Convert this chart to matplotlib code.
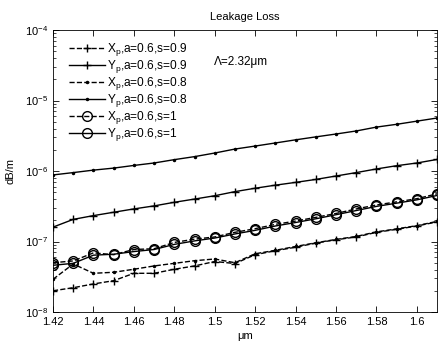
import matplotlib
matplotlib.use("Agg")
import matplotlib.pyplot as plt
from matplotlib.ticker import FuncFormatter, LogLocator, MultipleLocator, NullFormatter

plt.rcParams['font.family'] = ['Liberation Sans', 'DejaVu Sans']
plt.rcParams['mathtext.fontset'] = 'custom'
plt.rcParams['mathtext.rm'] = 'Liberation Sans'
plt.rcParams['mathtext.it'] = 'Liberation Sans:italic'

wavelength = [1.42, 1.43, 1.44, 1.45, 1.46, 1.47, 1.48, 1.49, 1.50, 1.51,
              1.52, 1.53, 1.54, 1.55, 1.56, 1.57, 1.58, 1.59, 1.60, 1.61]

xp_s09 = [2.0e-8, 2.21e-8, 2.5e-8, 2.78e-8, 3.54e-8, 3.54e-8, 4.04e-8, 4.5e-8, 5.2e-8, 4.87e-8,
          6.5e-8, 7.4e-8, 8.3e-8, 9.5e-8, 1.06e-7, 1.16e-7, 1.35e-7, 1.49e-7, 1.66e-7, 1.9e-7]
yp_s09 = [1.6e-7, 2.06e-7, 2.33e-7, 2.6e-7, 2.9e-7, 3.2e-7, 3.6e-7, 4.0e-7, 4.46e-7, 5.1e-7,
          5.7e-7, 6.3e-7, 6.9e-7, 7.6e-7, 8.5e-7, 9.5e-7, 1.07e-6, 1.19e-6, 1.3e-6, 1.46e-6]
xp_s08 = [2.91e-8, 4.8e-8, 3.54e-8, 3.66e-8, 4.04e-8, 4.5e-8, 4.9e-8, 5.34e-8, 5.65e-8, 5.0e-8,
          6.7e-8, 7.5e-8, 8.5e-8, 9.6e-8, 1.07e-7, 1.18e-7, 1.37e-7, 1.51e-7, 1.68e-7, 1.93e-7]
yp_s08 = [8.8e-7, 9.5e-7, 1.03e-6, 1.1e-6, 1.2e-6, 1.3e-6, 1.45e-6, 1.6e-6, 1.8e-6, 2.05e-6,
          2.26e-6, 2.5e-6, 2.77e-6, 3.05e-6, 3.35e-6, 3.7e-6, 4.2e-6, 4.6e-6, 5.1e-6, 5.65e-6]
xp_s1 = [5.0e-8, 5.3e-8, 6.9e-8, 6.5e-8, 7.7e-8, 7.9e-8, 9.7e-8, 1.08e-7, 1.16e-7, 1.35e-7,
         1.52e-7, 1.75e-7, 1.95e-7, 2.2e-7, 2.5e-7, 2.9e-7, 3.3e-7, 3.65e-7, 4.05e-7, 4.75e-7]
yp_s1 = [4.6e-8, 4.9e-8, 6.4e-8, 6.6e-8, 7.2e-8, 7.7e-8, 9.1e-8, 1.02e-7, 1.12e-7, 1.28e-7,
         1.44e-7, 1.66e-7, 1.86e-7, 2.1e-7, 2.4e-7, 2.75e-7, 3.15e-7, 3.5e-7, 3.9e-7, 4.5e-7]

labels = [r"X$_\mathrm{p}$,a=0.6,s=0.9", r"Y$_\mathrm{p}$,a=0.6,s=0.9",
          r"X$_\mathrm{p}$,a=0.6,s=0.8", r"Y$_\mathrm{p}$,a=0.6,s=0.8",
          r"X$_\mathrm{p}$,a=0.6,s=1", r"Y$_\mathrm{p}$,a=0.6,s=1"]

fig = plt.figure(figsize=(4.38, 3.43), dpi=100)
ax = fig.add_axes([0.121, 0.0904, 0.877, 0.822])

lw = 1.0
ax.plot(wavelength, xp_s09, 'k--', marker='+', ms=6, mew=1.0, lw=lw, label=labels[0])
ax.plot(wavelength, yp_s09, 'k-', marker='+', ms=6, mew=1.0, lw=lw, label=labels[1])
ax.plot(wavelength, xp_s08, 'k--', marker='.', ms=3, lw=lw, label=labels[2])
ax.plot(wavelength, yp_s08, 'k-', marker='.', ms=3, lw=lw, label=labels[3])
ax.plot(wavelength, xp_s1, 'k--', marker='o', ms=7, mfc='none', mew=1.0, lw=lw, label=labels[4])
ax.plot(wavelength, yp_s1, 'k-', marker='o', ms=7, mfc='none', mew=1.0, lw=lw, label=labels[5])

ax.set_yscale('log')
ax.set_xlim(1.42, 1.61)
ax.set_ylim(1e-8, 1e-4)
ax.xaxis.set_major_locator(MultipleLocator(0.02))
ax.xaxis.set_major_formatter(FuncFormatter(lambda v, p: "%g" % round(v, 2)))
ax.yaxis.set_major_locator(LogLocator(base=10, numticks=10))
ax.yaxis.set_minor_locator(LogLocator(base=10, subs=range(2, 10), numticks=20))
ax.yaxis.set_minor_formatter(NullFormatter())
ax.tick_params(which='both', direction='in', top=True, right=True, labelsize=8)
ax.tick_params(which='major', length=4, width=0.6)
ax.tick_params(which='minor', length=2, width=0.5)
for s in ax.spines.values():
    s.set_linewidth(0.6)

ax.set_title("Leakage Loss", fontsize=8, pad=7)
ax.set_xlabel("μm", fontsize=8, labelpad=3)
ax.set_ylabel("dB/m", fontsize=8, labelpad=7)
ax.text(1.4995, 3.5e-5, "Λ=2.32μm", fontsize=8.5, va='center', ha='left')

leg = ax.legend(loc='upper left', frameon=False, fontsize=8.6, handlelength=3.0,
                handletextpad=0.2, labelspacing=0.0, borderaxespad=0.3,
                bbox_to_anchor=(0.02, 0.99))

fig.savefig("out.png", dpi=100)
